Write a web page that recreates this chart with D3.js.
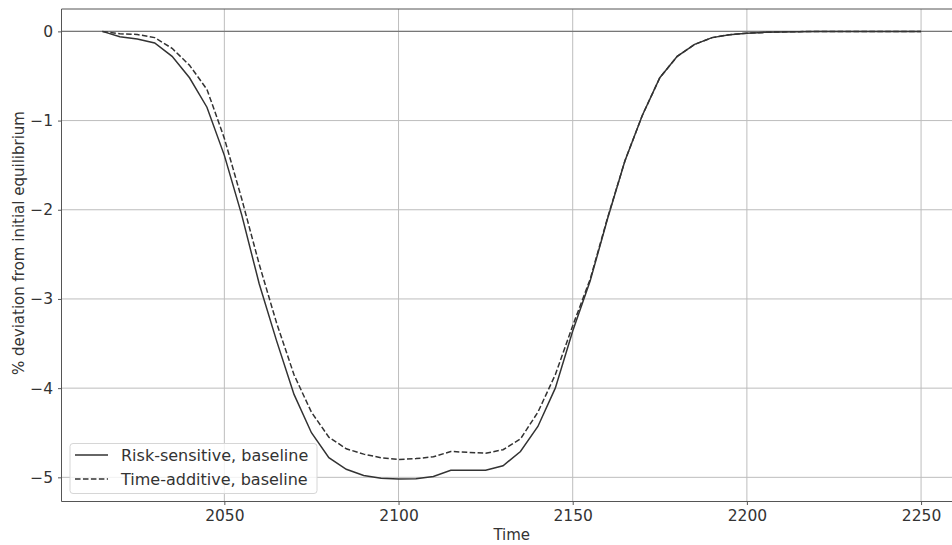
<!DOCTYPE html>
<html>
<head>
<meta charset="utf-8">
<script src="https://cdn.jsdelivr.net/npm/d3@7"></script>
<style>
  html, body { margin: 0; padding: 0; background: #fff; overflow: hidden; }
  svg { display: block; font-family: "DejaVu Sans", sans-serif; }
</style>
</head>
<body>
<svg id="chart" width="952" height="545"></svg>
<script>
const years = [2015, 2020, 2025, 2030, 2035, 2040, 2045, 2050, 2055, 2060, 2065, 2070,
  2075, 2080, 2085, 2090, 2095, 2100, 2105, 2110, 2115, 2120, 2125, 2130,
  2135, 2140, 2145, 2150, 2155, 2160, 2165, 2170, 2175, 2180, 2185, 2190,
  2195, 2200, 2205, 2210, 2215, 2220, 2225, 2230, 2235, 2240, 2245, 2250];

const riskSensitive = [0, -0.06, -0.085, -0.13, -0.28, -0.52, -0.85, -1.39, -2.06, -2.83, -3.47, -4.07,
  -4.5, -4.78, -4.91, -4.98, -5.01, -5.02, -5.015, -4.99, -4.92, -4.92, -4.92, -4.87,
  -4.71, -4.43, -4.0, -3.36, -2.8, -2.1, -1.45, -0.94, -0.52, -0.28, -0.146, -0.07,
  -0.037, -0.02, -0.011, -0.006, -0.003, -0.001, 0, 0, 0, 0, 0, 0];

const timeAdditive = [0, -0.026, -0.035, -0.07, -0.19, -0.38, -0.65, -1.2, -1.88, -2.61, -3.27, -3.85,
  -4.27, -4.55, -4.68, -4.74, -4.78, -4.80, -4.79, -4.77, -4.71, -4.72, -4.73, -4.69,
  -4.57, -4.27, -3.85, -3.3, -2.78, -2.09, -1.45, -0.94, -0.52, -0.28, -0.146, -0.07,
  -0.037, -0.02, -0.011, -0.006, -0.003, -0.001, 0, 0, 0, 0, 0, 0];

const seriesNames = ["Risk-sensitive, baseline", "Time-additive, baseline"];
const xTicks = [2050, 2100, 2150, 2200, 2250];
const yTicks = [0, -1, -2, -3, -4, -5];
const xLabel = "Time";
const yLabel = "% deviation from initial equilibrium";

(function () {
const svg = d3.select("#chart");
const pL = 61.5, pR = 962, pT = 9, pB = 501.5;
const textColor = "#333";

const x = d3.scaleLinear().domain([2003.25, 2261.75]).range([pL, pR]);
const y = d3.scaleLinear().domain([-5.271, 0.251]).range([pB, pT]);

svg.append("defs").append("clipPath").attr("id", "plotclip")
  .append("rect").attr("x", pL).attr("y", pT).attr("width", pR - pL).attr("height", pB - pT);

const g = svg.append("g");

// grid
const grid = g.append("g").attr("clip-path", "url(#plotclip)");
grid.selectAll("line.gx").data(xTicks).join("line")
  .attr("x1", d => x(d)).attr("x2", d => x(d)).attr("y1", pT).attr("y2", pB)
  .attr("stroke", "#bdbdbd").attr("stroke-width", 1);
grid.selectAll("line.gy").data(yTicks).join("line")
  .attr("y1", d => y(d)).attr("y2", d => y(d)).attr("x1", pL).attr("x2", pR)
  .attr("stroke", "#bdbdbd").attr("stroke-width", 1);

// zero reference line
grid.append("line").attr("x1", pL).attr("x2", pR).attr("y1", y(0)).attr("y2", y(0))
  .attr("stroke", "#777").attr("stroke-width", 1.2);

// series lines
const line = d3.line().x((d, i) => x(years[i])).y(d => y(d));
const plot = g.append("g").attr("clip-path", "url(#plotclip)");
plot.append("path").datum(timeAdditive).attr("d", line)
  .attr("fill", "none").attr("stroke", "#333").attr("stroke-width", 1.5)
  .attr("stroke-dasharray", "5.55,2.4");
plot.append("path").datum(riskSensitive).attr("d", line)
  .attr("fill", "none").attr("stroke", "#333").attr("stroke-width", 1.5);

// axes
const xAxis = d3.axisBottom(x).tickValues(xTicks).tickFormat(d3.format("d")).tickSize(3.5).tickPadding(5);
const yAxis = d3.axisLeft(y).tickValues(yTicks).tickFormat(d => d < 0 ? "\u2212" + Math.abs(d) : String(d)).tickSize(3.5).tickPadding(5);

const gx = g.append("g").attr("transform", `translate(0,${pB})`).call(xAxis);
const gy = g.append("g").attr("transform", `translate(${pL},0)`).call(yAxis);
[gx, gy].forEach(a => {
  a.select(".domain").remove();
  a.selectAll(".tick line").attr("stroke", "#555").attr("stroke-width", 1);
  a.selectAll(".tick text").attr("fill", textColor).style("font-size", "15.5px")
    .style("font-family", "'DejaVu Sans', sans-serif");
});

// spines
g.append("line").attr("x1", pL).attr("x2", pL).attr("y1", pT).attr("y2", pB).attr("stroke", "#555").attr("stroke-width", 1);
g.append("line").attr("x1", pL).attr("x2", pR).attr("y1", pB).attr("y2", pB).attr("stroke", "#555").attr("stroke-width", 1);
g.append("line").attr("x1", pL).attr("x2", pR).attr("y1", pT).attr("y2", pT).attr("stroke", "#555").attr("stroke-width", 1);
g.append("line").attr("x1", pR).attr("x2", pR).attr("y1", pT).attr("y2", pB).attr("stroke", "#555").attr("stroke-width", 1);

// axis labels
g.append("text").attr("x", (pL + pR) / 2).attr("y", 540).attr("text-anchor", "middle")
  .attr("fill", textColor).style("font-size", "15px").text(xLabel);
g.append("text").attr("transform", `translate(19,243) rotate(-90)`).attr("text-anchor", "middle")
  .attr("dominant-baseline", "central")
  .attr("fill", textColor).style("font-size", "15px").text(yLabel);

// legend
const lg = g.append("g");
lg.append("rect").attr("x", 70).attr("y", 443.5).attr("width", 247).attr("height", 50)
  .attr("rx", 3).attr("fill", "#fff").attr("fill-opacity", 0.8)
  .attr("stroke", "#d6d6d6").attr("stroke-width", 1);
const rows = [455, 479];
seriesNames.forEach((name, i) => {
  lg.append("line").attr("x1", 75).attr("x2", 108).attr("y1", rows[i]).attr("y2", rows[i])
    .attr("stroke", "#333").attr("stroke-width", 1.5)
    .attr("stroke-dasharray", i === 1 ? "5.55,2.4" : null);
  lg.append("text").attr("x", 121).attr("y", rows[i]).attr("dominant-baseline", "central")
    .attr("fill", textColor).style("font-size", "16px").text(name);
});
})();
</script>
</body>
</html>
